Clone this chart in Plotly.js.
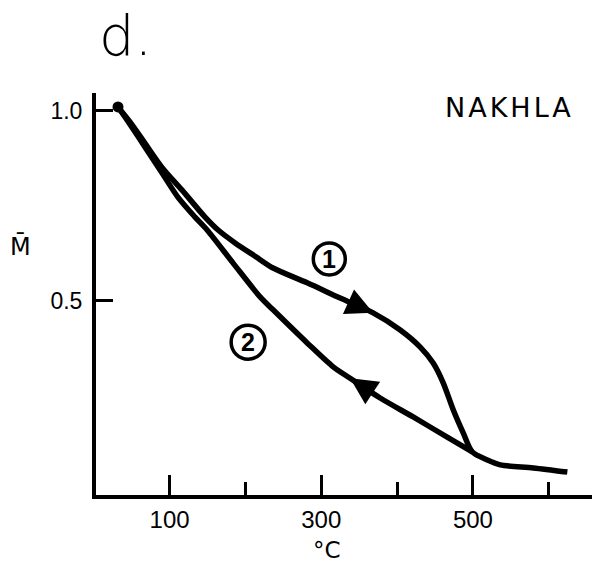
<!DOCTYPE html>
<html>
<head>
<meta charset="utf-8">
<script src="https://cdn.plot.ly/plotly-3.0.1.min.js"></script>
<style>html,body{margin:0;padding:0;background:#fff;}#chart{width:600px;height:566px;}</style>
</head>
<body>
<div id="chart"></div>
<script>
// Curve 1: heating (temperature °C, normalised M)
const heatT = [32, 48, 65, 90, 116.5, 146.8, 164, 186.4, 212.8, 236.5, 281.4, 324.9, 368.4, 404.1, 430.5, 447.6, 460.8, 474, 487.2, 499.1, 518.9, 536, 579.6, 624.5];
const heatM = [1.010, 0.970, 0.922, 0.851, 0.791, 0.720, 0.686, 0.652, 0.617, 0.586, 0.547, 0.507, 0.468, 0.423, 0.378, 0.336, 0.284, 0.213, 0.152, 0.102, 0.081, 0.068, 0.060, 0.049];
// Curve 2: cooling
const coolT = [499.1, 466.1, 421.2, 377.7, 338.1, 315.7, 281.4, 236.5, 219.4, 183.8, 149.5, 133.6, 111.2, 90.1, 67.7, 47.9, 32];
const coolM = [0.102, 0.141, 0.194, 0.244, 0.296, 0.326, 0.389, 0.476, 0.510, 0.599, 0.686, 0.720, 0.772, 0.836, 0.904, 0.964, 1.010];
// Ticks
const xTickVals = [100, 300, 500];
const xTickText = ['100', '300', '500'];
const xMinorTickVals = [200, 400, 600];
const yTickVals = [0.5, 1.0];
const yTickText = ['0.5', '1.0'];
// Labels
const panelLabel = 'd.';
const sampleName = 'NAKHLA';
const xTitle = '°C';
const yTitle = 'M\u0304';
const curveLabels = ['1', '2'];

const font = 'Liberation Sans, Arial, sans-serif';
const lineStyle = {color: '#000', width: 5.5, shape: 'spline', smoothing: 0.8};

const traces = [
  {x: heatT, y: heatM, type: 'scatter', mode: 'lines', line: lineStyle, hoverinfo: 'skip'},
  {x: coolT, y: coolM, type: 'scatter', mode: 'lines', line: lineStyle, hoverinfo: 'skip'},
  {x: [heatT[0]], y: [heatM[0]], type: 'scatter', mode: 'markers', marker: {color: '#000', size: 11}, hoverinfo: 'skip'}
];

const i1 = 12, i2 = 4;
const annotations = [
  // direction arrows
  {x: heatT[i1], y: heatM[i1], ax: heatT[i1 - 1], ay: heatM[i1 - 1], axref: 'x', ayref: 'y', xref: 'x', yref: 'y',
   showarrow: true, arrowhead: 2, arrowsize: 2.7, arrowwidth: 2, arrowcolor: '#000', text: ''},
  {x: coolT[i2], y: coolM[i2], ax: coolT[i2 - 1], ay: coolM[i2 - 1], axref: 'x', ayref: 'y', xref: 'x', yref: 'y',
   showarrow: true, arrowhead: 2, arrowsize: 2.7, arrowwidth: 2, arrowcolor: '#000', text: ''},
  // circled numbers
  {x: 310.6, y: 0.610, xref: 'x', yref: 'y', xanchor: 'center', yanchor: 'middle', text: '<b>' + curveLabels[0] + '</b>', showarrow: false, font: {family: font, size: 25, color: '#000'}},
  {x: 203.6, y: 0.391, xref: 'x', yref: 'y', xanchor: 'center', yanchor: 'middle', text: '<b>' + curveLabels[1] + '</b>', showarrow: false, font: {family: font, size: 25, color: '#000'}},
  // texts
  {x: 0.002, y: 1.142, xref: 'paper', yref: 'paper', xanchor: 'left', yanchor: 'middle', text: panelLabel, showarrow: false,
   font: {family: 'DejaVu Sans, sans-serif', weight: 300, size: 56, color: '#000'}},
  {x: 0.833, y: 0.963, xref: 'paper', yref: 'paper', xanchor: 'center', yanchor: 'middle', text: '<span style="letter-spacing:3px">' + sampleName + '</span>', showarrow: false,
   font: {family: 'DejaVu Sans, sans-serif', size: 27, color: '#000'}},
  {x: 0.466, y: -0.137, xref: 'paper', yref: 'paper', xanchor: 'center', yanchor: 'middle', text: xTitle, showarrow: false,
   font: {family: 'DejaVu Sans, sans-serif', size: 23, color: '#000'}},
  {x: -0.153, y: 0.617, xref: 'paper', yref: 'paper', xanchor: 'center', yanchor: 'middle', text: yTitle, showarrow: false,
   font: {family: 'DejaVu Sans, sans-serif', size: 24, color: '#000'}}
];

const shapes = [
  {type: 'circle', xref: 'x', yref: 'y', xsizemode: 'pixel', ysizemode: 'pixel', xanchor: 310.6, yanchor: 0.610,
   x0: -16, x1: 16, y0: -16, y1: 16, line: {color: '#000', width: 3.5}},
  {type: 'circle', xref: 'x', yref: 'y', xsizemode: 'pixel', ysizemode: 'pixel', xanchor: 203.6, yanchor: 0.391,
   x0: -17, x1: 17, y0: -17, y1: 17, line: {color: '#000', width: 3.5}}
];

const layout = {
  width: 600, height: 566,
  margin: {l: 96, r: 8, t: 93, b: 71},
  paper_bgcolor: '#fff', plot_bgcolor: '#fff',
  showlegend: false,
  xaxis: {
    range: [3, 657], showgrid: false, zeroline: false,
    showline: true, linewidth: 4, linecolor: '#000',
    tickmode: 'array', tickvals: xTickVals, ticktext: xTickText,
    ticks: 'inside', ticklen: 20, tickwidth: 3, tickcolor: '#000',
    ticklabelstandoff: 0,
    tickfont: {family: font, size: 24, color: '#000'},
    minor: {tickmode: 'array', tickvals: xMinorTickVals, ticks: 'inside', ticklen: 13, tickwidth: 3, tickcolor: '#000', showgrid: false}
  },
  yaxis: {
    range: [-0.0113, 1.0466], showgrid: false, zeroline: false,
    showline: true, linewidth: 4, linecolor: '#000',
    tickmode: 'array', tickvals: yTickVals, ticktext: yTickText,
    ticks: 'inside', ticklen: 17, tickwidth: 3, tickcolor: '#000',
    ticklabelstandoff: 5,
    tickfont: {family: font, size: 23, color: '#000'}
  },
  annotations: annotations,
  shapes: shapes
};

Plotly.newPlot('chart', traces, layout, {staticPlot: true, displayModeBar: false});
</script>
</body>
</html>
